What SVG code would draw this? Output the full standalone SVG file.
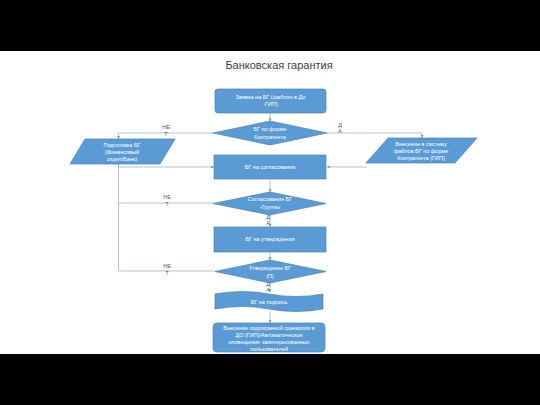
<svg xmlns="http://www.w3.org/2000/svg" width="540" height="405" viewBox="0 0 540 405">
<defs>
<marker id="arr" viewBox="0 0 6 6" refX="6" refY="3" markerWidth="4" markerHeight="4" orient="auto"><path d="M0,0 L6,3 L0,6 Z" fill="#7F9DBF"/></marker>
<style>
.n{fill:#5B9BD5;stroke:#4A83B8;stroke-width:0.7}
.t{font-family:"Liberation Sans",Arial,sans-serif;font-size:5.5px;fill:#ffffff;text-anchor:middle}
.l{font-family:"Liberation Sans",Arial,sans-serif;font-size:5.5px;fill:#595959;text-anchor:middle}
.c{fill:none;stroke:#9DB3CF;stroke-width:0.8}
.ca{fill:none;stroke:#9DB3CF;stroke-width:0.8;marker-end:url(#arr)}
</style>
</defs>
<rect x="0" y="0" width="540" height="405" fill="#ffffff"/>
<rect x="0" y="0" width="540" height="51" fill="#000000"/>
<rect x="0" y="354" width="540" height="51" fill="#000000"/>
<text x="279" y="69" font-family="'Liberation Sans',Arial,sans-serif" font-size="11" fill="#404040" text-anchor="middle">Банковская гарантия</text>

<g id="connectors">
<path class="ca" d="M270,113 L270,121"/>
<path class="ca" d="M213,133 L118.5,133 L118.5,139"/>
<path class="ca" d="M327,133 L422,133 L422,138"/>
<path class="ca" d="M118.5,164 L118.5,167 L214,167"/>
<path class="c" d="M118.5,167 L118.5,271"/>
<path class="ca" d="M367,167 L327,167"/>
<path class="ca" d="M270,179 L270,192"/>
<path class="c" d="M213,203 L118.5,203"/>
<path class="ca" d="M270,215 L270,227"/>
<path class="ca" d="M270,252 L270,260"/>
<path class="c" d="M215,271 L118.5,271"/>
<path class="ca" d="M270,283 L270,292"/>
<path class="ca" d="M270,311 L270,323"/>
<text class="l" x="166" y="129">НЕ</text><text class="l" x="166" y="136">Т</text>
<text class="l" x="340" y="127">Д</text><text class="l" x="340" y="133">А</text>
<text class="l" x="167" y="199">НЕ</text><text class="l" x="167" y="206">Т</text>
<text class="l" x="268" y="219">Д</text><text class="l" x="268" y="225">А</text>
<text class="l" x="167" y="268">НЕ</text><text class="l" x="167" y="275">Т</text>
<text class="l" x="268" y="286">Д</text><text class="l" x="268" y="292">А</text>
</g>

<g id="n1"><rect class="n" x="215" y="89" width="111" height="24" rx="3"/>
<text class="t" x="270.5" y="99">Заявка на БГ (шаблон в До</text><text class="t" x="270.5" y="106">-ГИП)</text></g>

<g id="d1"><path class="n" d="M270,121 L327,133 L270,145 L213,133 Z"/>
<text class="t" x="270" y="131">БГ по форме</text><text class="t" x="270" y="139">Контрагента</text></g>

<g id="p1"><path class="n" d="M85,139 L175,139 L160,164 L70,164 Z"/>
<text class="t" x="122" y="147">Подготовка БГ</text><text class="t" x="122" y="154">(Финансовый</text><text class="t" x="122" y="161">отдел/Банк)</text></g>

<g id="p2"><path class="n" d="M388,138 L477,138 L455,163 L366,163 Z"/>
<text class="t" x="421" y="146">Внесение в систему</text><text class="t" x="421" y="153">файлов БГ по форме</text><text class="t" x="421" y="160">Контрагента (ГИП)</text></g>

<g id="n2"><rect class="n" x="214" y="155" width="112" height="24"/>
<text class="t" x="270" y="169">БГ на согласовании</text></g>

<g id="d2"><path class="n" d="M270,192 L326,203.5 L270,215 L213,203.5 Z"/>
<text class="t" x="270" y="201">Согласование БГ</text><text class="t" x="270" y="209">-Группы</text></g>

<g id="n3"><rect class="n" x="214" y="227" width="112" height="25"/>
<text class="t" x="270" y="241">БГ на утверждении</text></g>

<g id="d3"><path class="n" d="M270,260 L326,271.5 L270,283 L215,271.5 Z"/>
<text class="t" x="270" y="270">Утверждение БГ</text><text class="t" x="270" y="278">(П)</text></g>

<g id="n4"><path class="n" d="M215,294 Q242,289 269,294 T323,294 L323,309 Q296,314 269,309 T215,309 Z"/>
<text class="t" x="269" y="304">БГ на подпись</text></g>

<g id="n5"><rect class="n" x="213" y="323" width="112" height="29" rx="4"/>
<text class="t" x="269" y="330">Внесение подписанной сканкопии в</text><text class="t" x="269" y="337">ДО (ГИП)/Автоматическое</text><text class="t" x="269" y="344">оповещение заинтересованных</text><text class="t" x="269" y="351">пользователей</text></g>
</svg>
